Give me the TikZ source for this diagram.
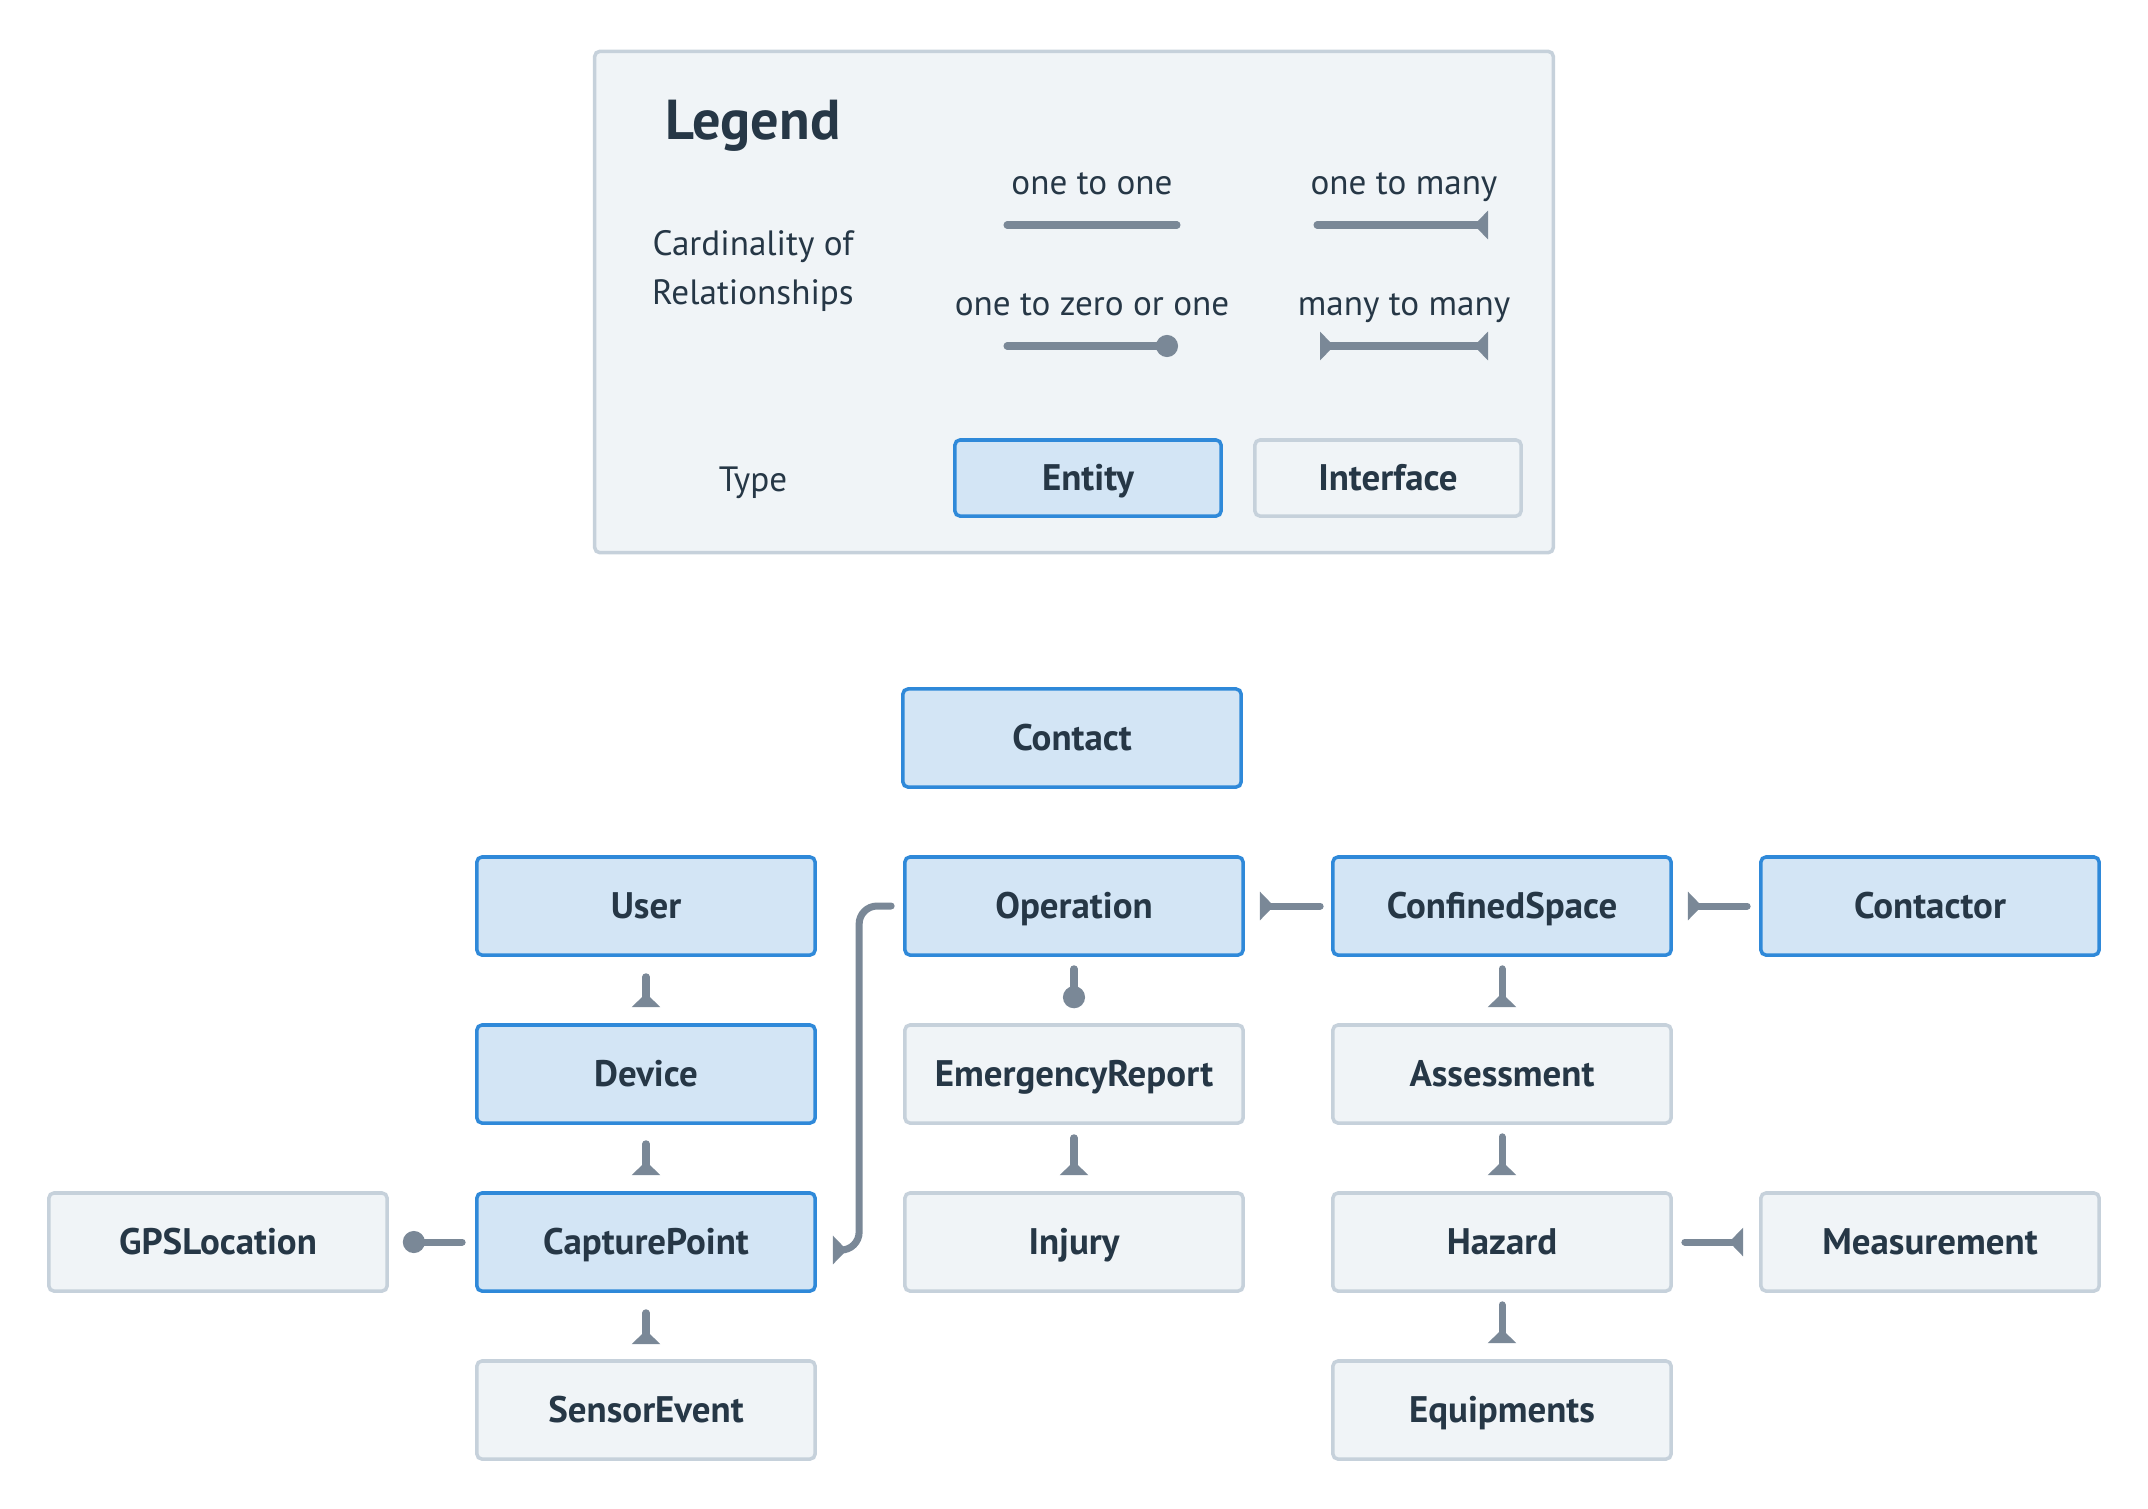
\documentclass[tikz,border=0pt]{standalone}
\usepackage{fontspec}
\setmainfont{PT Sans}
\usetikzlibrary{arrows.meta}
\definecolor{ink}{HTML}{263746}
\definecolor{entfill}{HTML}{D3E5F5}
\definecolor{entline}{HTML}{2F89D9}
\definecolor{ifcfill}{HTML}{F0F4F7}
\definecolor{ifcline}{HTML}{C6D1DB}
\definecolor{relcol}{HTML}{7A8897}
\tikzset{
  box/.style={rectangle, rounded corners=0.05cm, minimum width=3.38cm, minimum height=0.98cm,
    line width=1pt, text=ink, font=\fontsize{10.5}{12}\selectfont\bfseries,
    text height=0.72em, text depth=0em},
  entity/.style={box, draw=entline, fill=entfill},
  iface/.style={box, draw=ifcline, fill=ifcfill},
  legendbox/.style={rectangle, rounded corners=0.05cm, draw=ifcline, fill=ifcfill, line width=1pt,
    minimum width=9.58cm, minimum height=5.01cm},
  lbl/.style={text=ink, font=\fontsize{10}{14}\selectfont, inner sep=0pt,
    text height=0.72em, text depth=0em},
  rel/.style={draw=relcol, line width=2pt, line cap=round},
  many/.tip={Triangle[reversed, width=0.28cm, length=0.14cm]},
  zero/.tip={Circle[length=0.22cm]},
}
\begin{document}
\begin{tikzpicture}[x=0.01cm, y=-0.01cm]
    \useasboundingbox (0,0) rectangle (2148,1508);
    % legend
    \node[legendbox] (legend) at (1074,302) {};
    \node[text=ink, font=\fontsize{16}{18}\selectfont\bfseries, inner sep=0pt] (title) at (753,126) {Legend};
    \node[lbl, align=center, text height=, text depth=] (card) at (753,271) {Cardinality of\\Relationships};
    \node[lbl] (type) at (753,479) {Type};
    \node[lbl] (one) at (1092,182) {one to one};
    \node[lbl] (onemany) at (1404,182) {one to many};
    \node[lbl] (onezero) at (1092,303) {one to zero or one};
    \node[lbl] (manymany) at (1404,303) {many to many};
    \coordinate (a1) at (1007,225);
    \coordinate (a2) at (1177,225);
    \coordinate (b1) at (1317,225);
    \coordinate (b2) at (1488,225);
    \coordinate (c1) at (1007,346);
    \coordinate (c2) at (1178,346);
    \coordinate (d1) at (1320,346);
    \coordinate (d2) at (1488,346);
    \draw[rel] (a1) -- (a2);
    \draw[rel, -many] (b1) -- (b2);
    \draw[rel, -zero] (c1) -- (c2);
    \draw[rel, many-many] (d1) -- (d2);
    \node[entity, minimum width=2.66cm, minimum height=0.76cm] (entkey) at (1088,478) {Entity};
    \node[iface, minimum width=2.66cm, minimum height=0.76cm] (ifckey) at (1388,478) {Interface};
    % entities and interfaces
    \node[entity] (contact) at (1072,738) {Contact};
    \node[entity] (user) at (646,906) {User};
    \node[entity] (op) at (1074,906) {Operation};
    \node[entity] (cs) at (1502,906) {ConfinedSpace};
    \node[entity] (ctr) at (1930,906) {Contactor};
    \node[entity] (dev) at (646,1074) {Device};
    \node[iface] (emr) at (1074,1074) {EmergencyReport};
    \node[iface] (asm) at (1502,1074) {Assessment};
    \node[iface] (gps) at (218,1242) {GPSLocation};
    \node[entity] (cp) at (646,1242) {CapturePoint};
    \node[iface] (inj) at (1074,1242) {Injury};
    \node[iface] (haz) at (1502,1242) {Hazard};
    \node[iface] (meas) at (1930,1242) {Measurement};
    \node[iface] (sens) at (646,1410) {SensorEvent};
    \node[iface] (equip) at (1502,1410) {Equipments};
    % relationships
    \draw[rel, -many] ([yshift=-0.20cm]user.south) -- ([yshift=0.16cm]dev.north);
    \draw[rel, -many] ([yshift=-0.19cm]dev.south) -- ([yshift=0.16cm]cp.north);
    \draw[rel, -many] ([yshift=-0.20cm]cp.south) -- ([yshift=0.15cm]sens.north);
    \draw[rel, -zero] ([xshift=-0.13cm]cp.west) -- ([xshift=0.14cm]gps.east);
    \draw[rel, -many, rounded corners=0.18cm] ([xshift=-0.12cm]op.west) -- ++(-32,0)
        |- ([xshift=0.16cm, yshift=-0.08cm]cp.east);
    \draw[rel, -zero] ([yshift=-0.12cm]op.south) -- ([yshift=0.15cm]emr.north);
    \draw[rel, -many] ([yshift=-0.13cm]emr.south) -- ([yshift=0.16cm]inj.north);
    \draw[rel, -many] ([xshift=-0.11cm]cs.west) -- ([xshift=0.15cm]op.east);
    \draw[rel, -many] ([xshift=-0.12cm]ctr.west) -- ([xshift=0.15cm]cs.east);
    \draw[rel, -many] ([yshift=-0.12cm]cs.south) -- ([yshift=0.16cm]asm.north);
    \draw[rel, -many] ([yshift=-0.12cm]asm.south) -- ([yshift=0.16cm]haz.north);
    \draw[rel, -many] ([xshift=0.12cm]haz.east) -- ([xshift=-0.16cm]meas.west);
    \draw[rel, -many] ([yshift=-0.12cm]haz.south) -- ([yshift=0.16cm]equip.north);
\end{tikzpicture}
\end{document}
